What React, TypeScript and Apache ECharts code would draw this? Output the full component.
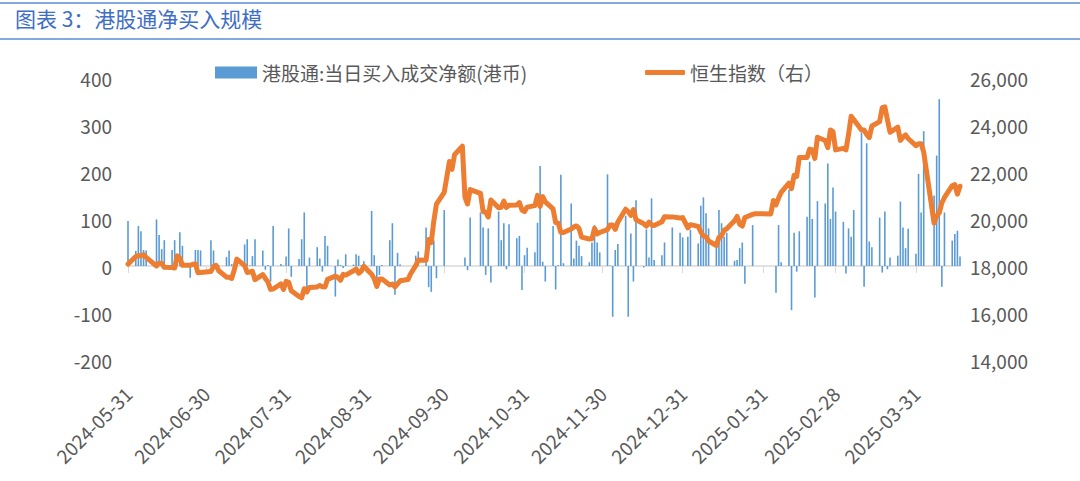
import React, { useEffect, useRef } from "react";
import * as echarts from "echarts";

const TITLE = "图表 3：港股通净买入规模";
const BAR_NAME = "港股通:当日买入成交净额(港币)";
const LINE_NAME = "恒生指数（右）";

const START_DATE = "2024-05-31";
const END_DATE = "2025-04-17";

const tickLabels = [
  "2024-05-31", "2024-06-30", "2024-07-31", "2024-08-31", "2024-09-30", "2024-10-31",
  "2024-11-30", "2024-12-31", "2025-01-31", "2025-02-28", "2025-03-31",
];

// HK trading days
const tradeDates = [
  "2024-05-31",
  "2024-06-03", "2024-06-04", "2024-06-05", "2024-06-06", "2024-06-07", "2024-06-11", "2024-06-12", "2024-06-13", "2024-06-14", "2024-06-17", "2024-06-18", "2024-06-19", "2024-06-20", "2024-06-21", "2024-06-24", "2024-06-25", "2024-06-26", "2024-06-27", "2024-06-28",
  "2024-07-02", "2024-07-03", "2024-07-04", "2024-07-05", "2024-07-08", "2024-07-09", "2024-07-10", "2024-07-11", "2024-07-12", "2024-07-15", "2024-07-16", "2024-07-17", "2024-07-18", "2024-07-19", "2024-07-22", "2024-07-23", "2024-07-24", "2024-07-25", "2024-07-26", "2024-07-29", "2024-07-30", "2024-07-31",
  "2024-08-01", "2024-08-02", "2024-08-05", "2024-08-06", "2024-08-07", "2024-08-08", "2024-08-09", "2024-08-12", "2024-08-13", "2024-08-14", "2024-08-15", "2024-08-16", "2024-08-19", "2024-08-20", "2024-08-21", "2024-08-22", "2024-08-23", "2024-08-26", "2024-08-27", "2024-08-28", "2024-08-29", "2024-08-30",
  "2024-09-02", "2024-09-03", "2024-09-04", "2024-09-05", "2024-09-06", "2024-09-09", "2024-09-10", "2024-09-11", "2024-09-12", "2024-09-13", "2024-09-16", "2024-09-17", "2024-09-19", "2024-09-20", "2024-09-23", "2024-09-24", "2024-09-25", "2024-09-26", "2024-09-27", "2024-09-30",
  "2024-10-02", "2024-10-03", "2024-10-04", "2024-10-07", "2024-10-08", "2024-10-09", "2024-10-10", "2024-10-14", "2024-10-15", "2024-10-16", "2024-10-17", "2024-10-18", "2024-10-21", "2024-10-22", "2024-10-23", "2024-10-24", "2024-10-25", "2024-10-28", "2024-10-29", "2024-10-30", "2024-10-31",
  "2024-11-01", "2024-11-04", "2024-11-05", "2024-11-06", "2024-11-07", "2024-11-08", "2024-11-11", "2024-11-12", "2024-11-13", "2024-11-14", "2024-11-15", "2024-11-18", "2024-11-19", "2024-11-20", "2024-11-21", "2024-11-22", "2024-11-25", "2024-11-26", "2024-11-27", "2024-11-28", "2024-11-29",
  "2024-12-02", "2024-12-03", "2024-12-04", "2024-12-05", "2024-12-06", "2024-12-09", "2024-12-10", "2024-12-11", "2024-12-12", "2024-12-13", "2024-12-16", "2024-12-17", "2024-12-18", "2024-12-19", "2024-12-20", "2024-12-23", "2024-12-24", "2024-12-27", "2024-12-30", "2024-12-31",
  "2025-01-02", "2025-01-03", "2025-01-06", "2025-01-07", "2025-01-08", "2025-01-09", "2025-01-10", "2025-01-13", "2025-01-14", "2025-01-15", "2025-01-16", "2025-01-17", "2025-01-20", "2025-01-21", "2025-01-22", "2025-01-23", "2025-01-24", "2025-01-27", "2025-01-28",
  "2025-02-03", "2025-02-04", "2025-02-05", "2025-02-06", "2025-02-07", "2025-02-10", "2025-02-11", "2025-02-12", "2025-02-13", "2025-02-14", "2025-02-17", "2025-02-18", "2025-02-19", "2025-02-20", "2025-02-21", "2025-02-24", "2025-02-25", "2025-02-26", "2025-02-27", "2025-02-28",
  "2025-03-03", "2025-03-04", "2025-03-05", "2025-03-06", "2025-03-07", "2025-03-10", "2025-03-11", "2025-03-12", "2025-03-13", "2025-03-14", "2025-03-17", "2025-03-18", "2025-03-19", "2025-03-20", "2025-03-21", "2025-03-24", "2025-03-25", "2025-03-26", "2025-03-27", "2025-03-28", "2025-03-31",
  "2025-04-01", "2025-04-02", "2025-04-03", "2025-04-07", "2025-04-08", "2025-04-09", "2025-04-10", "2025-04-11", "2025-04-14", "2025-04-15", "2025-04-16", "2025-04-17",
];

// Hang Seng Index close (right axis)
const hsiClose = [
  18080,
  18403, 18444, 18425, 18476, 18367, 18000, 18113, 18112, 17942, 17937, 17916, 18430, 18335, 18028, 18027, 18072, 18089, 17716, 17719,
  17769, 17978, 18028, 17799, 17524, 17523, 17471, 17832, 18293, 18015, 17727, 17739, 17778, 17417, 17635, 17469, 17311, 17005, 17021, 17238, 17003, 17344,
  17304, 16945, 16698, 16647, 17031, 16892, 17090, 17111, 17174, 17113, 17110, 17430, 17569, 17511, 17392, 17642, 17612, 17798, 17875, 17692, 17786, 17989,
  17651, 17457, 17127, 17444, 17444, 17196, 17234, 17108, 17240, 17369, 17422, 17660, 18013, 18258, 18247, 19129, 19000, 19924, 20632, 21134,
  22444, 22114, 22737, 23100, 20927, 20637, 21252, 21093, 20319, 20287, 20080, 20805, 20478, 20499, 20761, 20490, 20590, 20599, 20701, 20381, 20317,
  20506, 20568, 21006, 20538, 20953, 20728, 20427, 19846, 19824, 19435, 19427, 19577, 19663, 19705, 19601, 19230, 19151, 19159, 19604, 19366, 19424,
  19551, 19747, 19742, 19560, 19866, 20415, 20312, 20156, 20398, 19971, 19795, 19700, 19865, 19753, 19721, 19883, 20098, 20090, 20041, 20060,
  19623, 19760, 19688, 19447, 19280, 19241, 19064, 18874, 19219, 19287, 19523, 19584, 19926, 20107, 19779, 19700, 20066, 20198, 20225,
  20217, 20790, 20597, 20892, 21133, 21522, 21295, 21858, 21815, 22620, 22617, 22976, 22944, 22577, 23478, 23342, 23035, 23788, 23718, 22941,
  23006, 22941, 23595, 24370, 24231, 23783, 23782, 23600, 23462, 23959, 24146, 24740, 24771, 24219, 23690, 23906, 23344, 23483, 23579, 23426, 23120,
  23207, 23203, 22850, 19828, 20128, 20265, 20682, 20915, 21417, 21467, 21057, 21395,
];

// Southbound net buy, HK$ 100m (left axis); null = connect closed
const netBuy = [
  96,
  32, 85, 74, 34, 33, 99, 66, 36, 55, 34, 55, 4, 72, 43, -25, 3, 34, 34, 33,
  55, 33, 6, 2, 19, 33, 4, 2, 3, 46, 57, 1, 21, 57, 33, -8, 2, -33, 85, 4, 1, 20,
  80, -23, 15, 57, 114, -51, 18, 40, 16, -12, 64, 43, -65, 14, 2, -4, 25, 3, 25, 22, 2, 10,
  117, 23, -40, -19, 2, 55, 91, -61, 28, 3, null, null, 22, 31, 82, -45, -55, 54, -26, 119,
  null, null, null, null, 18, -9, 103, 114, 82, -19, 80, -35, 116, 55, 91, -7, 89, 59, 64, -51, 23,
  39, 29, 92, 213, 9, -33, 85, -50, 2, 194, 6, 133, 16, 54, 43, 21, 8, 50, 87, 50, 29,
  195, 1, -108, 34, 47, 107, -108, 69, -33, 140, -3, 78, 18, 144, 13, 23, 50, 82, 71, 61,
  62, 77, 48, 128, 146, 112, 80, 43, 119, 91, 62, 71, 11, 13, 38, 50, -38, 87, null,
  null, null, -57, 87, 8, 162, -94, 71, -12, 74, 105, 222, 100, -67, 138, 133, 218, 100, 167, 116,
  94, -16, 80, 62, 119, 284, -44, 261, 52, 40, 103, -14, 116, -7, 18, 22, 137, 82, 38, 79, 26,
  196, 114, 287, 150, 235, 355, -44, 114, 54, 68, 75, 20,
];

function buildCalendar(start: string, end: string): string[] {
  const out: string[] = [];
  const d = new Date(start + "T00:00:00Z");
  const e = new Date(end + "T00:00:00Z");
  while (d.getTime() <= e.getTime()) {
    out.push(d.toISOString().slice(0, 10));
    d.setUTCDate(d.getUTCDate() + 1);
  }
  return out;
}

const FONT = "'Noto Sans CJK SC', 'Noto Sans', sans-serif";
const GRAY = "#595959";

export default function App() {
  const ref = useRef<HTMLDivElement>(null);

  useEffect(() => {
    if (!ref.current) return;
    const chart = echarts.init(ref.current, undefined, { renderer: "svg" });

    const calendar = buildCalendar(START_DATE, END_DATE);
    const hsiMap = new Map<string, number>();
    const flowMap = new Map<string, number | null>();
    tradeDates.forEach((d, i) => {
      hsiMap.set(d, hsiClose[i]);
      flowMap.set(d, netBuy[i]);
    });
    const barData = calendar.map((d) => (flowMap.has(d) ? flowMap.get(d) : null));
    const lineData = calendar.map((d) => (hsiMap.has(d) ? hsiMap.get(d) : null));
    const isTick = (_i: number, v: string) => tickLabels.includes(v);

    chart.setOption({
      animation: false,
      backgroundColor: "#ffffff",
      textStyle: { fontFamily: FONT },
      graphic: [
        { type: "line", shape: { x1: 0, y1: 3, x2: 1080, y2: 3 }, style: { stroke: "#5B8BD6", lineWidth: 1.5 } },
        { type: "line", shape: { x1: 0, y1: 39, x2: 1080, y2: 39 }, style: { stroke: "#5B8BD6", lineWidth: 1.5 } },
        {
          type: "text",
          left: 15,
          top: 7,
          style: { text: TITLE, fill: "#3E6EC5", font: `21px ${FONT}` },
        },
      ],
      legend: [
        {
          left: 210,
          top: 58,
          itemWidth: 42,
          itemHeight: 12,
          itemGap: 0,
          textStyle: { fontSize: 19, color: GRAY, fontFamily: FONT },
          data: [{ name: BAR_NAME, icon: "rect" }],
        },
        {
          left: 640,
          top: 58,
          itemWidth: 40,
          itemHeight: 5,
          textStyle: { fontSize: 19, color: GRAY, fontFamily: FONT },
          data: [{ name: LINE_NAME, icon: "roundRect", itemStyle: { color: "#ED7D31" } }],
        },
      ],
      grid: { left: 128, right: 120, top: 78, bottom: 121, containLabel: false },
      xAxis: [
        {
          type: "category",
          data: calendar,
          position: "bottom",
          boundaryGap: false,
          axisLine: { show: false, onZero: false },
          axisTick: { show: false },
          axisLabel: {
            interval: isTick,
            rotate: 45,
            margin: 30,
            fontSize: 19,
            color: GRAY,
            fontFamily: FONT,
          },
          splitLine: { show: false },
        },
        {
          type: "category",
          data: calendar,
          position: "bottom",
          boundaryGap: false,
          axisLine: { show: true, onZero: true, lineStyle: { color: "#D9D9D9", width: 1.5 } },
          axisTick: { show: true, interval: isTick, length: 7, lineStyle: { color: "#D9D9D9" } },
          axisLabel: { show: false },
          splitLine: { show: false },
        },
      ],
      yAxis: [
        {
          type: "value",
          min: -200,
          max: 400,
          interval: 100,
          axisLine: { show: false },
          axisTick: { show: false },
          splitLine: { show: false },
          axisLabel: { fontSize: 19, color: GRAY, margin: 16, fontFamily: FONT },
        },
        {
          type: "value",
          min: 14000,
          max: 26000,
          interval: 2000,
          position: "right",
          axisLine: { show: false },
          axisTick: { show: false },
          splitLine: { show: false },
          axisLabel: {
            fontSize: 19,
            color: GRAY,
            margin: 10,
            fontFamily: FONT,
            formatter: (v: number) => v.toLocaleString("en-US"),
          },
        },
      ],
      series: [
        {
          name: BAR_NAME,
          type: "bar",
          xAxisIndex: 0,
          yAxisIndex: 0,
          data: barData,
          barWidth: 1.6,
          itemStyle: { color: "#5B9BD5" },
        },
        {
          name: LINE_NAME,
          type: "line",
          xAxisIndex: 0,
          yAxisIndex: 1,
          data: lineData,
          connectNulls: true,
          showSymbol: false,
          symbol: "none",
          lineStyle: { color: "#ED7D31", width: 5, join: "round", cap: "round" },
          itemStyle: { color: "#ED7D31" },
          z: 3,
        },
      ],
    });

    return () => chart.dispose();
  }, []);

  return (
    <div
      ref={ref}
      style={{ position: "fixed", left: 0, top: 0, width: 1080, height: 481, background: "#fff" }}
    />
  );
}
